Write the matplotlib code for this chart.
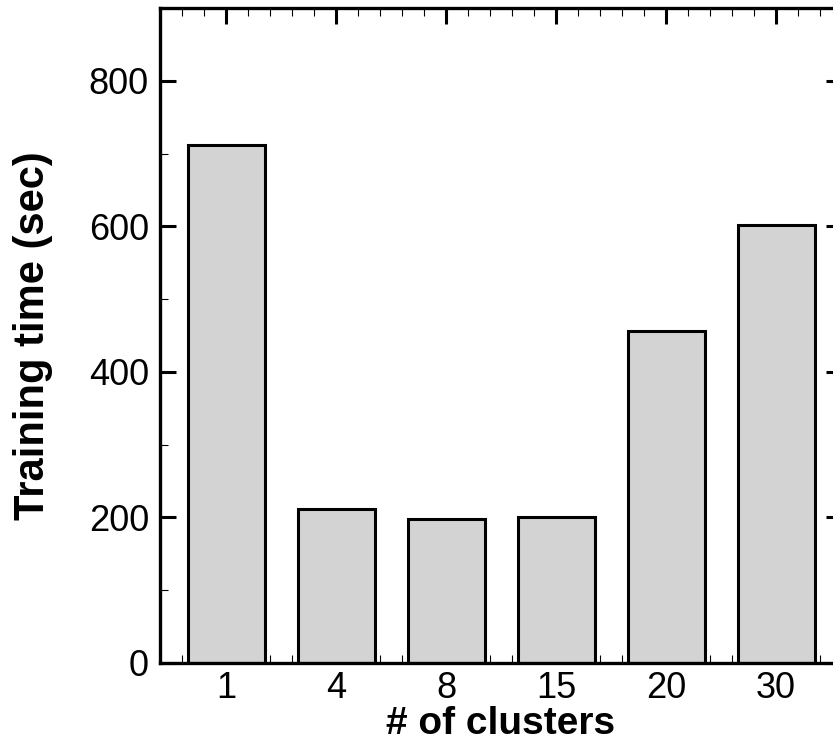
import matplotlib
matplotlib.use("Agg")
import matplotlib.pyplot as plt
from matplotlib.ticker import MultipleLocator

# data
clusters = ["1", "4", "8", "15", "20", "30"]
train_time = [712, 211, 198, 200, 456, 602]

plt.rcParams["font.family"] = ["Liberation Sans", "DejaVu Sans"]

fig = plt.figure(figsize=(8.33, 7.47), dpi=100)
# right spine sits just past the image edge, as in the original
ax = fig.add_axes([160 / 833, 1 - 663 / 747, 682 / 833, 655 / 747])

pos = list(range(len(clusters)))
ax.bar(pos, train_time, width=0.7, color="#d3d3d3", edgecolor="black",
       linewidth=2.2, zorder=2)

ax.set_xlim(-0.6, 5.6)
ax.set_ylim(0, 900)
ax.set_xticks(pos)
ax.set_xticklabels(clusters)
ax.xaxis.set_minor_locator(MultipleLocator(0.2))
ax.yaxis.set_major_locator(MultipleLocator(200))
ax.yaxis.set_minor_locator(MultipleLocator(100))

for s in ax.spines.values():
    s.set_linewidth(2.4)
    s.set_zorder(3)

ax.tick_params(which="both", direction="in", top=True, right=True,
               labelsize=26, zorder=4)
ax.tick_params(which="major", length=11.5, width=2.2, pad=8)
ax.tick_params(which="minor", length=6, width=0.8)
ax.tick_params(axis="x", which="major", pad=6)

ax.set_xlabel("# of clusters", fontsize=28, fontweight="bold", labelpad=0)
ax.set_ylabel("Training time (sec)", fontsize=30, fontweight="bold", labelpad=26)

fig.savefig("out.png", dpi=100)
